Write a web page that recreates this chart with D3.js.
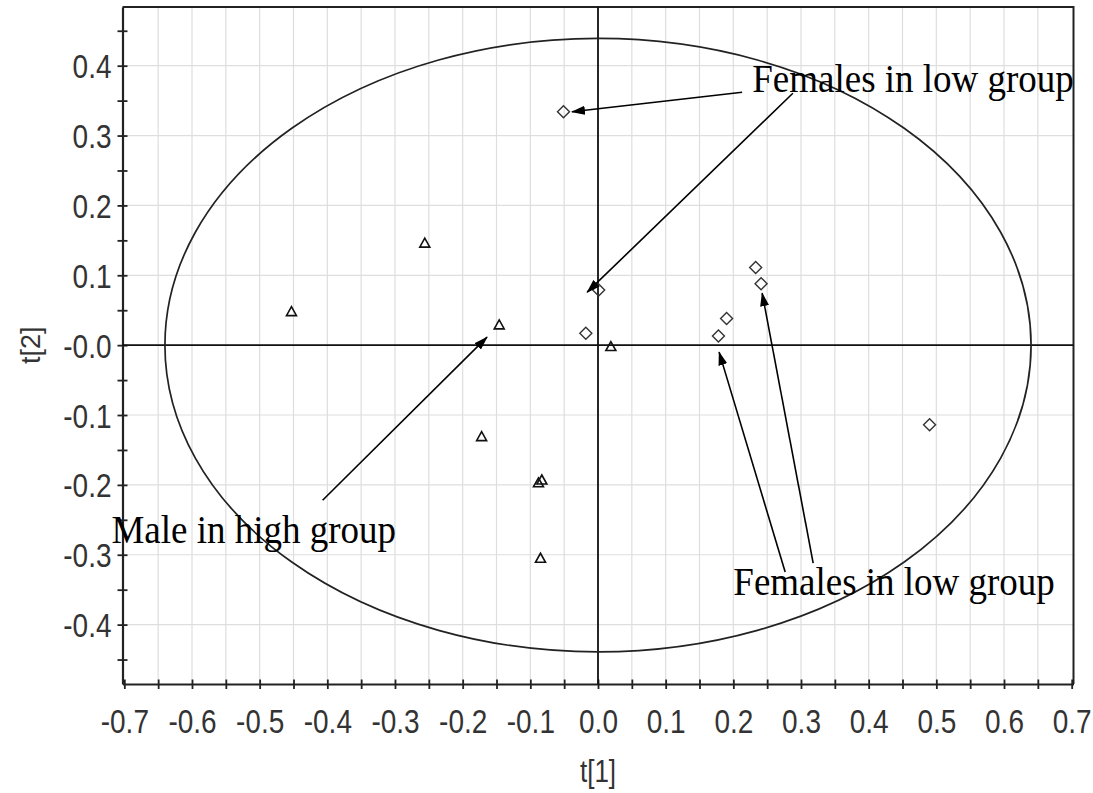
<!DOCTYPE html>
<html>
<head>
<meta charset="utf-8">
<script src="https://cdn.jsdelivr.net/npm/d3@7"></script>
<style>
  body { margin: 0; background: #fff; }
  svg { display: block; }
</style>
</head>
<body>
<div id="chart"></div>
<script>
// score values
var triX = [-0.453, -0.256, -0.146, 0.019, -0.172, -0.088, -0.083, -0.085];
var triY = [0.048, 0.146, 0.029, -0.002, -0.131, -0.197, -0.193, -0.305];

var diaX = [-0.051, 0.001, -0.018, 0.233, 0.241, 0.190, 0.178, 0.490];
var diaY = [0.334, 0.079, 0.017, 0.111, 0.088, 0.038, 0.013, -0.114];

var xTickLabels = ["-0.7", "-0.6", "-0.5", "-0.4", "-0.3", "-0.2", "-0.1", "0.0", "0.1", "0.2", "0.3", "0.4", "0.5", "0.6", "0.7"];
var yTickLabels = ["-0.4", "-0.3", "-0.2", "-0.1", "-0.0", "0.1", "0.2", "0.3", "0.4"];

// Hotelling ellipse half axes (t[1], t[2])
var ellipseR = [0.640, 0.439];

// annotations: label text + where it starts, arrows from -> to (data units)
var noteText = ["Females in low group", "Male in high group", "Females in low group"];
var noteX = [0.228, -0.719, 0.200];
var noteY = [0.363, -0.283, -0.358];

var arrowFrom = [[0.213, 0.362], [0.288, 0.3605], [-0.407, -0.222], [0.2766, -0.3247], [0.318, -0.312]];
var arrowTo = [[-0.0385, 0.334], [-0.016, 0.0758], [-0.164, 0.0114], [0.179, -0.010], [0.2426, 0.0744]];

var width = 1093, height = 793;
var margin = {left: 122.5, top: 7, right: 19.5, bottom: 109};
var w = width - margin.left - margin.right,
    h = height - margin.top - margin.bottom;

var svg = d3.select("#chart")
  .append("svg")
  .attr("width", width)
  .attr("height", height);

svg.append("defs").append("marker")
  .attr("id", "head")
  .attr("markerUnits", "userSpaceOnUse")
  .attr("viewBox", "0 -5 14 10")
  .attr("refX", 13)
  .attr("refY", 0)
  .attr("markerWidth", 14)
  .attr("markerHeight", 10)
  .attr("orient", "auto")
  .append("path")
  .attr("d", "M0,-4.5L14,0L0,4.5Z")
  .attr("fill", "#000");

var g = svg.append("g")
  .attr("transform", "translate(" + margin.left + "," + margin.top + ")");

var x = d3.scaleLinear().domain([-0.7027, 0.7027]).range([0, w]);
var y = d3.scaleLinear().domain([-0.485, 0.484]).range([h, 0]);

var xMinor = d3.range(-14, 15).map(function(i) { return i * 0.05; });
var yMinor = d3.range(-9, 10).map(function(i) { return i * 0.05; });
var xMajor = xTickLabels.map(Number);
var yMajor = yTickLabels.map(Number);

// grid: vertical every 0.05, horizontal every 0.1
g.append("g").selectAll("line")
  .data(xMinor.slice(1, -1))
  .enter().append("line")
  .attr("x1", function(d) { return x(d); })
  .attr("x2", function(d) { return x(d); })
  .attr("y1", 0).attr("y2", h)
  .attr("stroke", "#dedede")
  .attr("stroke-width", 1.2);

g.append("g").selectAll("line")
  .data(yMajor)
  .enter().append("line")
  .attr("x1", 0).attr("x2", w)
  .attr("y1", function(d) { return y(d); })
  .attr("y2", function(d) { return y(d); })
  .attr("stroke", "#dedede")
  .attr("stroke-width", 1.2);

// frame top / right
g.append("path")
  .attr("d", "M0,0H" + w + "V" + h)
  .attr("fill", "none")
  .attr("stroke", "#222")
  .attr("stroke-width", 2);

// axes
var xAxis = g.append("g")
  .attr("transform", "translate(0," + h + ")")
  .call(d3.axisBottom(x).tickValues(xMinor).tickSizeOuter(0).tickFormat(function(d) {
    var i = xMajor.findIndex(function(v) { return Math.abs(v - d) < 1e-9; });
    return i < 0 ? "" : xTickLabels[i];
  }));

var yAxis = g.append("g")
  .call(d3.axisLeft(y).tickValues(yMinor).tickSizeOuter(0).tickFormat(function(d) {
    var i = yMajor.findIndex(function(v) { return Math.abs(v - d) < 1e-9; });
    return i < 0 ? "" : yTickLabels[i];
  }));

[xAxis, yAxis].forEach(function(a) {
  a.select(".domain").attr("stroke", "#222").attr("stroke-width", 2.2);
  a.selectAll(".tick line").attr("stroke", "#222").attr("stroke-width", 1.8);
  a.selectAll(".tick text")
    .attr("font-family", "'Liberation Sans', Arial, sans-serif")
    .attr("font-size", 28)
    .attr("fill", "#333")
    .attr("x", 0).attr("y", 0).attr("dy", null);
});

xAxis.selectAll(".tick line").attr("y1", -4.5).attr("y2", 5);
xAxis.selectAll(".tick text")
  .attr("text-anchor", "middle")
  .attr("transform", "translate(0,49) scale(1,1.2)");

yAxis.selectAll(".tick line").attr("x1", -5).attr("x2", 5);
yAxis.selectAll(".tick text")
  .attr("text-anchor", "end")
  .attr("transform", "translate(-11,12) scale(1,1.2)");

// zero lines
g.append("line")
  .attr("x1", x(0)).attr("x2", x(0)).attr("y1", 0).attr("y2", h)
  .attr("stroke", "#111").attr("stroke-width", 1.8);
g.append("line")
  .attr("x1", 0).attr("x2", w).attr("y1", y(0)).attr("y2", y(0))
  .attr("stroke", "#111").attr("stroke-width", 1.8);

// ellipse
g.append("ellipse")
  .attr("cx", x(0))
  .attr("cy", y(0))
  .attr("rx", x(ellipseR[0]) - x(0))
  .attr("ry", y(0) - y(ellipseR[1]))
  .attr("fill", "none")
  .attr("stroke", "#222")
  .attr("stroke-width", 1.7);

// points
g.selectAll(".tri")
  .data(triX)
  .enter().append("path")
  .attr("class", "tri")
  .attr("transform", function(d, i) { return "translate(" + x(d) + "," + y(triY[i]) + ")"; })
  .attr("d", "M0,-5L5,4L-5,4Z")
  .attr("fill", "none")
  .attr("stroke", "#111")
  .attr("stroke-width", 1.6);

g.selectAll(".dia")
  .data(diaX)
  .enter().append("path")
  .attr("class", "dia")
  .attr("transform", function(d, i) { return "translate(" + x(d) + "," + y(diaY[i]) + ")"; })
  .attr("d", "M0,-6L6,0L0,6L-6,0Z")
  .attr("fill", "none")
  .attr("stroke", "#333")
  .attr("stroke-width", 1.4);

// annotation arrows + labels
g.selectAll(".arrow")
  .data(arrowFrom)
  .enter().append("line")
  .attr("class", "arrow")
  .attr("x1", function(d) { return x(d[0]); })
  .attr("y1", function(d) { return y(d[1]); })
  .attr("x2", function(d, i) { return x(arrowTo[i][0]); })
  .attr("y2", function(d, i) { return y(arrowTo[i][1]); })
  .attr("stroke", "#000")
  .attr("stroke-width", 1.6)
  .attr("marker-end", "url(#head)");

g.selectAll(".note")
  .data(noteText)
  .enter().append("text")
  .attr("class", "note")
  .attr("transform", function(d, i) {
    return "translate(" + x(noteX[i]) + "," + y(noteY[i]) + ") scale(1,1.07)";
  })
  .attr("font-family", "'Liberation Serif', 'Times New Roman', serif")
  .attr("font-size", 37)
  .attr("fill", "#000")
  .text(function(d) { return d; });

// axis titles
svg.append("text")
  .attr("transform", "translate(" + (margin.left + x(0)) + ",782) scale(1,1.2)")
  .attr("text-anchor", "middle")
  .attr("font-family", "'Liberation Sans', Arial, sans-serif")
  .attr("font-size", 26)
  .attr("fill", "#333")
  .text("t[1]");

svg.append("text")
  .attr("transform", "translate(40," + (margin.top + y(0)) + ") rotate(-90)")
  .attr("text-anchor", "middle")
  .attr("font-family", "'Liberation Sans', Arial, sans-serif")
  .attr("font-size", 27)
  .attr("fill", "#333")
  .text("t[2]");
</script>
</body>
</html>
